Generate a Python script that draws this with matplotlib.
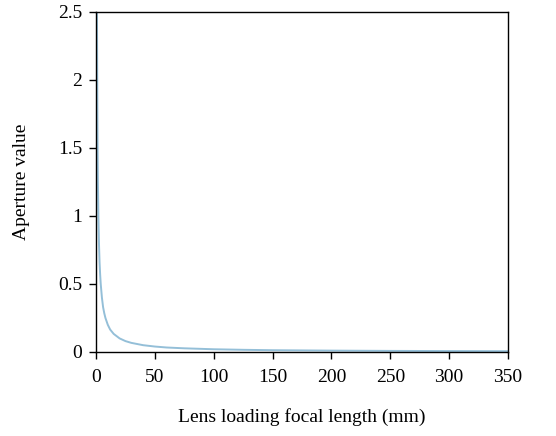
import matplotlib
matplotlib.use("Agg")
import matplotlib.pyplot as plt

# values
focal_length = [0.8, 1, 1.3, 1.6, 2, 2.5, 3, 3.5, 4, 5, 6, 7, 8, 10, 12, 15, 20, 25, 30,
                40, 50, 60, 75, 100, 125, 150, 200, 250, 300, 350]
aperture = [2.5, 2.05, 1.55, 1.25, 1.0, 0.8, 0.66, 0.57, 0.5, 0.4, 0.33, 0.285, 0.25,
            0.2, 0.165, 0.133, 0.1, 0.08, 0.067, 0.05, 0.04, 0.033, 0.027, 0.02,
            0.016, 0.013, 0.01, 0.008, 0.0067, 0.0057]

x_ticks = [0, 50, 100, 150, 200, 250, 300, 350]
y_ticks = [0, 0.5, 1, 1.5, 2, 2.5]
y_labels = ["0", "0.5", "1", "1.5", "2", "2.5"]

plt.rcParams["font.family"] = ["Liberation Serif", "DejaVu Serif"]
plt.rcParams["font.size"] = 14

fig = plt.figure(figsize=(5.56, 4.36), dpi=100)
ax = fig.add_axes([0.1727, 0.1927, 0.741, 0.78])

ax.plot(focal_length, aperture, color="#94bfd8", linewidth=1.4)

ax.set_xlim(0, 350)
ax.set_ylim(0, 2.5)
ax.set_xticks(x_ticks)
ax.set_yticks(y_ticks)
ax.set_yticklabels(y_labels)
ax.tick_params(direction="out", length=5, width=1, colors="black", labelsize=14)
ax.tick_params(axis="x", pad=7)
ax.tick_params(axis="y", pad=5)
for s in ax.spines.values():
    s.set_linewidth(1)

ax.set_xlabel("Lens loading focal length (mm)", fontsize=14, labelpad=16)
ax.set_ylabel("Aperture value", fontsize=14, labelpad=20)

fig.savefig("out.png", dpi=100)
